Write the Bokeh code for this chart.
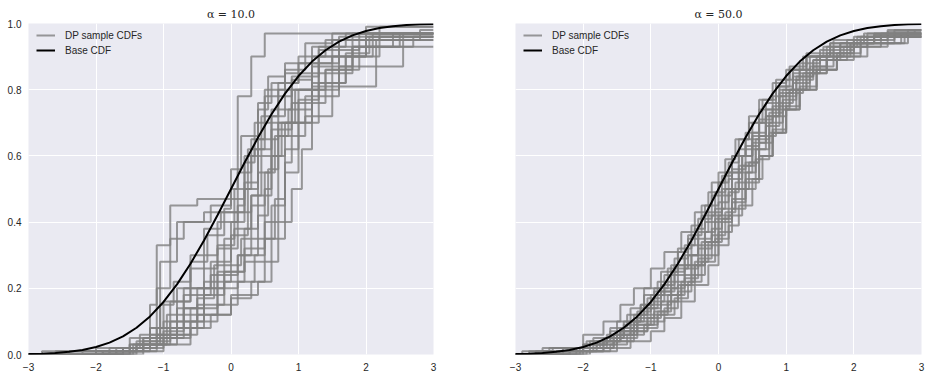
from bokeh.plotting import figure
from bokeh.layouts import row
from bokeh.models import Range1d, FixedTicker, Legend, LegendItem
from bokeh.embed import file_html
from bokeh.resources import INLINE

titles = ["α = 10.0", "α = 50.0"]

x_ticks = [-3, -2, -1, 0, 1, 2, 3]
x_tick_labels = ["−3", "−2", "−1", "0", "1", "2", "3"]
y_ticks = [0.0, 0.2, 0.4, 0.6, 0.8, 1.0]
y_tick_labels = ["0.0", "0.2", "0.4", "0.6", "0.8", "1.0"]

# Base (standard normal) CDF
base_x = [-3.0, -2.8, -2.6, -2.4, -2.2, -2.0, -1.8, -1.6, -1.4, -1.2, -1.0,
          -0.8, -0.6, -0.4, -0.2, 0.0, 0.2, 0.4, 0.6, 0.8, 1.0,
          1.2, 1.4, 1.6, 1.8, 2.0, 2.2, 2.4, 2.6, 2.8, 3.0]
base_y = [0.0013, 0.0026, 0.0047, 0.0082, 0.0139, 0.0228, 0.0359, 0.0548, 0.0808, 0.1151, 0.1587,
          0.2119, 0.2743, 0.3446, 0.4207, 0.5, 0.5793, 0.6554, 0.7257, 0.7881, 0.8413,
          0.8849, 0.9192, 0.9452, 0.9641, 0.9772, 0.9861, 0.9918, 0.9953, 0.9974, 0.9987]

# alpha = 10 : jump locations and CDF levels after each jump
left_jumps = [
    [-2.0, -1.5, -1.2, -1.1, -0.9, -0.5, 0.0, 0.1, 0.3, 0.5, 2.0],
    [-1.8, -1.4, -1.05, -0.8, -0.4, 0.3, 0.6, 0.8, 1.3, 1.9],
    [-1.7, -1.1, -0.6, -0.3, 0.0, 0.4, 0.6, 0.8, 1.0, 1.3, 1.7, 2.1],
    [-2.6, -1.5, -1.0, -0.6, -0.2, 0.2, 0.4, 0.6, 0.9, 1.4, 1.8, 2.7],
    [-1.6, -1.3, -0.8, -0.4, -0.2, 0.1, 0.3, 0.7, 1.2, 1.5, 2.2],
    [-2.2, -1.4, -0.9, -0.7, -0.3, 0.0, 0.25, 0.4, 0.5, 0.9, 1.2, 1.6],
    [-1.5, -1.2, -0.9, -0.6, -0.1, 0.2, 0.5, 0.7, 0.8, 1.1, 1.6, 2.55],
    [-1.4, -1.0, -0.7, -0.4, 0.0, 0.2, 0.3, 0.45, 0.7, 1.0, 1.4],
    [-1.9, -1.3, -0.9, -0.5, -0.2, 0.1, 0.3, 0.6, 0.8, 1.0, 1.3, 1.5, 2.0],
    [-1.3, -1.1, -0.9, -0.7, -0.3, 0.0, 0.2, 0.35, 0.5, 0.8, 1.1, 1.5],
    [-2.0, -1.6, -1.2, -0.8, -0.5, -0.2, 0.1, 0.2, 0.35, 0.5, 0.9, 1.2, 1.8, 2.4],
    [-1.6, -1.0, -0.7, -0.2, 0.1, 0.35, 0.5, 0.6, 0.75, 1.0, 1.4, 1.9],
    [-2.4, -1.3, -0.95, -0.8, -0.6, -0.4, -0.15, 0.2, 0.4, 0.6, 0.9, 1.3, 1.7],
    [-1.5, -1.2, -0.6, -0.4, -0.1, 0.2, 0.5, 0.65, 0.8, 0.9, 1.2, 1.6, 2.0],
    [-1.7, -1.1, -0.5, -0.1, 0.05, 0.25, 0.4, 0.55, 0.8, 1.2, 1.8],
    [-1.9, -1.4, -0.8, -0.4, 0.0, 0.3, 0.5, 0.7, 0.9, 1.05, 1.2, 2.15, 2.8],
    [-1.6, -1.2, -1.0, -0.6, -0.35, -0.1, 0.0, 0.15, 0.4, 0.6, 1.0, 1.6],
    [-2.8, -1.5, -1.1, -0.7, -0.3, 0.1, 0.4, 0.55, 0.7, 1.1, 1.5, 1.8, 2.5],
    [-1.45, -1.05, -0.85, -0.6, -0.2, 0.05, 0.3, 0.45, 0.7, 0.95, 1.3, 2.2],
    [-1.8, -1.35, -1.0, -0.5, -0.25, 0.15, 0.3, 0.5, 0.65, 0.85, 1.2, 1.7, 2.05],
]
left_levels = [
    [0.02, 0.05, 0.15, 0.33, 0.45, 0.47, 0.50, 0.78, 0.90, 0.97, 0.99],
    [0.01, 0.04, 0.28, 0.40, 0.43, 0.48, 0.72, 0.85, 0.92, 0.97],
    [0.01, 0.03, 0.08, 0.12, 0.18, 0.22, 0.35, 0.55, 0.70, 0.82, 0.90, 0.97],
    [0.01, 0.03, 0.06, 0.14, 0.25, 0.38, 0.55, 0.68, 0.76, 0.86, 0.93, 0.96],
    [0.02, 0.05, 0.12, 0.30, 0.40, 0.55, 0.65, 0.80, 0.88, 0.95, 0.99],
    [0.01, 0.03, 0.10, 0.20, 0.28, 0.36, 0.50, 0.65, 0.78, 0.83, 0.90, 0.96],
    [0.01, 0.08, 0.16, 0.20, 0.25, 0.32, 0.40, 0.60, 0.70, 0.78, 0.87, 0.97],
    [0.02, 0.07, 0.14, 0.22, 0.40, 0.50, 0.60, 0.72, 0.82, 0.90, 0.95],
    [0.01, 0.04, 0.08, 0.12, 0.20, 0.30, 0.35, 0.45, 0.62, 0.77, 0.85, 0.90, 0.96],
    [0.05, 0.20, 0.35, 0.40, 0.45, 0.47, 0.60, 0.70, 0.80, 0.86, 0.94, 0.97],
    [0.01, 0.02, 0.06, 0.14, 0.20, 0.32, 0.45, 0.58, 0.62, 0.70, 0.80, 0.87, 0.93, 0.97],
    [0.01, 0.05, 0.10, 0.15, 0.22, 0.30, 0.50, 0.60, 0.70, 0.80, 0.86, 0.93],
    [0.01, 0.03, 0.12, 0.20, 0.30, 0.38, 0.43, 0.52, 0.62, 0.74, 0.84, 0.93, 0.97],
    [0.02, 0.05, 0.10, 0.18, 0.22, 0.28, 0.35, 0.47, 0.58, 0.70, 0.80, 0.90, 0.97],
    [0.02, 0.06, 0.15, 0.35, 0.50, 0.62, 0.74, 0.84, 0.88, 0.93, 0.97],
    [0.01, 0.03, 0.08, 0.12, 0.17, 0.22, 0.28, 0.40, 0.50, 0.62, 0.81, 0.95, 0.98],
    [0.02, 0.08, 0.16, 0.28, 0.36, 0.44, 0.56, 0.66, 0.76, 0.82, 0.88, 0.95],
    [0.01, 0.03, 0.08, 0.18, 0.24, 0.30, 0.42, 0.56, 0.66, 0.72, 0.85, 0.93, 0.97],
    [0.03, 0.15, 0.22, 0.26, 0.33, 0.38, 0.48, 0.60, 0.70, 0.80, 0.90, 0.96],
    [0.02, 0.06, 0.10, 0.17, 0.27, 0.35, 0.45, 0.55, 0.66, 0.74, 0.82, 0.91, 0.96],
]

# alpha = 50 : jump locations and CDF levels after each jump
right_jumps = [
    [-2.6, -2.0, -1.7, -1.4, -1.2, -1.0, -0.8, -0.6, -0.45, -0.3, -0.1, 0.05, 0.2, 0.35, 0.5, 0.7, 0.9, 1.1, 1.3, 1.6, 2.0, 2.5],
    [-2.3, -1.9, -1.6, -1.35, -1.1, -0.9, -0.7, -0.5, -0.35, -0.2, 0.0, 0.15, 0.3, 0.45, 0.65, 0.85, 1.05, 1.3, 1.7, 2.2, 2.9],
    [-2.1, -1.7, -1.3, -1.0, -0.8, -0.55, -0.35, -0.15, 0.0, 0.15, 0.3, 0.5, 0.65, 0.8, 1.0, 1.2, 1.45, 1.75, 2.1, 2.6],
    [-2.8, -2.2, -1.8, -1.5, -1.25, -1.05, -0.85, -0.65, -0.4, -0.2, -0.05, 0.1, 0.3, 0.5, 0.7, 0.9, 1.15, 1.4, 1.8, 2.3],
    [-2.0, -1.55, -1.3, -1.15, -0.95, -0.75, -0.6, -0.4, -0.25, -0.1, 0.1, 0.25, 0.45, 0.6, 0.8, 1.0, 1.25, 1.55, 1.9, 2.4],
    [-2.4, -1.9, -1.55, -1.25, -1.0, -0.75, -0.55, -0.35, -0.2, 0.0, 0.2, 0.4, 0.55, 0.75, 0.95, 1.15, 1.4, 1.7, 2.0, 2.7],
    [-2.5, -1.85, -1.5, -1.3, -1.1, -0.85, -0.6, -0.45, -0.25, -0.05, 0.1, 0.3, 0.5, 0.7, 0.9, 1.1, 1.35, 1.65, 2.1, 2.8],
    [-1.9, -1.6, -1.35, -1.1, -0.9, -0.7, -0.5, -0.3, -0.1, 0.1, 0.25, 0.45, 0.6, 0.8, 1.0, 1.25, 1.5, 1.85, 2.2],
    [-2.7, -2.0, -1.65, -1.4, -1.15, -0.95, -0.7, -0.5, -0.3, -0.15, 0.05, 0.2, 0.4, 0.6, 0.8, 1.0, 1.2, 1.5, 2.0, 2.5],
    [-2.2, -1.75, -1.45, -1.2, -0.95, -0.7, -0.5, -0.3, -0.1, 0.05, 0.25, 0.4, 0.6, 0.85, 1.05, 1.3, 1.6, 1.95, 2.3, 3.0],
    [-2.3, -1.8, -1.5, -1.2, -0.9, -0.65, -0.45, -0.25, -0.05, 0.15, 0.35, 0.55, 0.75, 0.95, 1.15, 1.35, 1.6, 1.9, 2.4],
    [-2.05, -1.65, -1.4, -1.2, -1.0, -0.8, -0.65, -0.45, -0.3, -0.1, 0.05, 0.2, 0.4, 0.6, 0.85, 1.05, 1.3, 1.65, 2.15],
    [-2.9, -2.1, -1.7, -1.45, -1.2, -0.95, -0.75, -0.55, -0.35, -0.15, 0.05, 0.2, 0.4, 0.6, 0.8, 1.0, 1.2, 1.45, 1.75, 2.1, 2.6],
    [-2.2, -1.7, -1.45, -1.25, -1.05, -0.85, -0.65, -0.4, -0.2, 0.0, 0.15, 0.35, 0.5, 0.7, 0.9, 1.1, 1.4, 1.7, 2.05, 2.6],
    [-2.45, -1.95, -1.6, -1.3, -1.1, -0.9, -0.7, -0.5, -0.25, -0.05, 0.15, 0.3, 0.5, 0.7, 0.9, 1.1, 1.35, 1.6, 1.95, 2.8],
    [-1.95, -1.5, -1.25, -1.05, -0.85, -0.6, -0.4, -0.2, 0.0, 0.2, 0.35, 0.55, 0.75, 0.95, 1.2, 1.45, 1.8, 2.3],
    [-2.6, -2.0, -1.7, -1.45, -1.25, -1.0, -0.8, -0.55, -0.35, -0.15, 0.0, 0.2, 0.4, 0.6, 0.8, 1.05, 1.3, 1.6, 2.0, 2.5],
    [-2.35, -1.85, -1.55, -1.3, -1.05, -0.8, -0.6, -0.4, -0.2, 0.0, 0.2, 0.4, 0.6, 0.8, 1.0, 1.2, 1.45, 1.75, 2.2, 2.75],
]
right_levels = [
    [0.01, 0.03, 0.05, 0.08, 0.12, 0.16, 0.20, 0.26, 0.30, 0.35, 0.42, 0.48, 0.55, 0.60, 0.67, 0.74, 0.80, 0.85, 0.90, 0.93, 0.96, 0.975],
    [0.02, 0.04, 0.08, 0.12, 0.18, 0.22, 0.27, 0.33, 0.38, 0.45, 0.52, 0.58, 0.65, 0.70, 0.77, 0.83, 0.87, 0.91, 0.95, 0.97, 0.98],
    [0.01, 0.02, 0.04, 0.07, 0.11, 0.16, 0.21, 0.27, 0.33, 0.39, 0.45, 0.53, 0.60, 0.67, 0.74, 0.80, 0.86, 0.91, 0.95, 0.97],
    [0.01, 0.02, 0.04, 0.07, 0.10, 0.14, 0.19, 0.24, 0.30, 0.37, 0.44, 0.50, 0.57, 0.64, 0.72, 0.78, 0.84, 0.89, 0.94, 0.965],
    [0.02, 0.06, 0.10, 0.15, 0.20, 0.26, 0.32, 0.39, 0.45, 0.52, 0.59, 0.65, 0.72, 0.77, 0.82, 0.86, 0.90, 0.93, 0.95, 0.97],
    [0.01, 0.03, 0.06, 0.09, 0.12, 0.16, 0.21, 0.27, 0.33, 0.40, 0.47, 0.55, 0.62, 0.70, 0.77, 0.83, 0.87, 0.91, 0.94, 0.97],
    [0.02, 0.05, 0.10, 0.14, 0.20, 0.25, 0.31, 0.36, 0.42, 0.49, 0.55, 0.62, 0.70, 0.76, 0.81, 0.86, 0.90, 0.94, 0.96, 0.98],
    [0.01, 0.03, 0.06, 0.09, 0.13, 0.18, 0.23, 0.29, 0.36, 0.43, 0.50, 0.58, 0.64, 0.72, 0.79, 0.85, 0.90, 0.93, 0.96],
    [0.01, 0.03, 0.06, 0.10, 0.15, 0.19, 0.25, 0.30, 0.37, 0.43, 0.50, 0.56, 0.63, 0.71, 0.78, 0.83, 0.88, 0.92, 0.95, 0.98],
    [0.02, 0.04, 0.07, 0.11, 0.15, 0.20, 0.26, 0.32, 0.38, 0.44, 0.52, 0.58, 0.66, 0.74, 0.80, 0.86, 0.90, 0.94, 0.96, 0.97],
    [0.01, 0.03, 0.05, 0.08, 0.12, 0.17, 0.22, 0.28, 0.35, 0.42, 0.50, 0.59, 0.67, 0.74, 0.80, 0.85, 0.89, 0.93, 0.96],
    [0.02, 0.05, 0.09, 0.13, 0.18, 0.24, 0.29, 0.35, 0.41, 0.48, 0.54, 0.60, 0.67, 0.74, 0.81, 0.86, 0.90, 0.94, 0.97],
    [0.01, 0.02, 0.04, 0.06, 0.09, 0.13, 0.18, 0.22, 0.28, 0.34, 0.41, 0.46, 0.53, 0.60, 0.68, 0.75, 0.81, 0.86, 0.90, 0.94, 0.96],
    [0.01, 0.04, 0.08, 0.12, 0.17, 0.21, 0.27, 0.33, 0.40, 0.46, 0.53, 0.60, 0.66, 0.72, 0.79, 0.84, 0.89, 0.93, 0.96, 0.98],
    [0.02, 0.04, 0.07, 0.10, 0.14, 0.18, 0.22, 0.27, 0.34, 0.41, 0.49, 0.55, 0.62, 0.69, 0.76, 0.82, 0.87, 0.91, 0.94, 0.97],
    [0.01, 0.04, 0.07, 0.11, 0.16, 0.21, 0.27, 0.34, 0.42, 0.50, 0.57, 0.65, 0.73, 0.80, 0.86, 0.90, 0.94, 0.97],
    [0.02, 0.06, 0.10, 0.15, 0.20, 0.26, 0.31, 0.37, 0.43, 0.49, 0.55, 0.60, 0.65, 0.70, 0.75, 0.80, 0.85, 0.89, 0.93, 0.96],
    [0.01, 0.02, 0.04, 0.07, 0.10, 0.14, 0.19, 0.24, 0.30, 0.37, 0.44, 0.52, 0.60, 0.67, 0.74, 0.80, 0.86, 0.90, 0.94, 0.96],
]

BG = "#EAEAF2"
GRAY = "gray"
LABEL_COLOR = "#262626"
FONT = "Liberation Sans"


def make_panel(title, jumps, levels, show_y, border_left, frame_w, border_right):
    p = figure(width=border_left + frame_w + border_right, height=373,
               x_range=Range1d(-3, 3), y_range=Range1d(0, 1),
               output_backend="svg", toolbar_location=None,
               min_border_left=border_left, min_border_right=border_right,
               min_border_top=23, min_border_bottom=17)
    p.background_fill_color = BG
    p.border_fill_color = "white"
    p.outline_line_color = None

    p.title.text = title
    p.title.align = "center"
    p.title.text_font = "DejaVu Serif"
    p.title.text_font_size = "11px"
    p.title.text_font_style = "normal"
    p.title.text_color = "#262626"
    p.title.standoff = 5

    for ax in (p.xaxis, p.yaxis):
        ax.axis_line_color = None
        ax.major_tick_line_color = None
        ax.minor_tick_line_color = None
        ax.major_tick_out = 0
        ax.major_tick_in = 0
        ax.major_label_text_font = FONT
        ax.major_label_text_font_size = "10px"
        ax.major_label_text_color = LABEL_COLOR
    p.xaxis.major_label_standoff = 8
    p.yaxis.major_label_standoff = 7
    p.xaxis.ticker = FixedTicker(ticks=x_ticks)
    p.xaxis.major_label_overrides = {t: s for t, s in zip(x_ticks, x_tick_labels)}
    p.yaxis.ticker = FixedTicker(ticks=y_ticks)
    p.yaxis.major_label_overrides = {t: s for t, s in zip(y_ticks, y_tick_labels)}
    if not show_y:
        p.yaxis.major_label_text_color = None

    p.xgrid.grid_line_color = "white"
    p.ygrid.grid_line_color = "white"
    p.xgrid.grid_line_width = 1
    p.ygrid.grid_line_width = 1

    gray_r = None
    for jx, lv in zip(jumps, levels):
        xs = [-3.0] + jx + [3.0]
        ys = [0.0] + lv + [lv[-1]]
        r = p.step(xs, ys, mode="after", line_color=GRAY, line_alpha=0.8, line_width=2)
        if gray_r is None:
            gray_r = r
    base_r = p.line(base_x, base_y, line_color="black", line_width=2)

    legend = Legend(items=[LegendItem(label="DP sample CDFs", renderers=[gray_r]),
                           LegendItem(label="Base CDF", renderers=[base_r])],
                    location=(8, 297), background_fill_alpha=0, border_line_color=None,
                    label_text_font=FONT, label_text_font_size="10px", label_text_color=LABEL_COLOR,
                    glyph_width=19, glyph_height=14, label_height=14, label_standoff=10,
                    spacing=1, padding=0, margin=0)
    p.add_layout(legend)
    return p


p1 = make_panel(titles[0], left_jumps, left_levels, True, 28, 405, 45)
p2 = make_panel(titles[1], right_jumps, right_levels, False, 37, 406, 5)

layout = row(p1, p2, spacing=0)
open("out.html", "w").write(file_html(layout, INLINE))
